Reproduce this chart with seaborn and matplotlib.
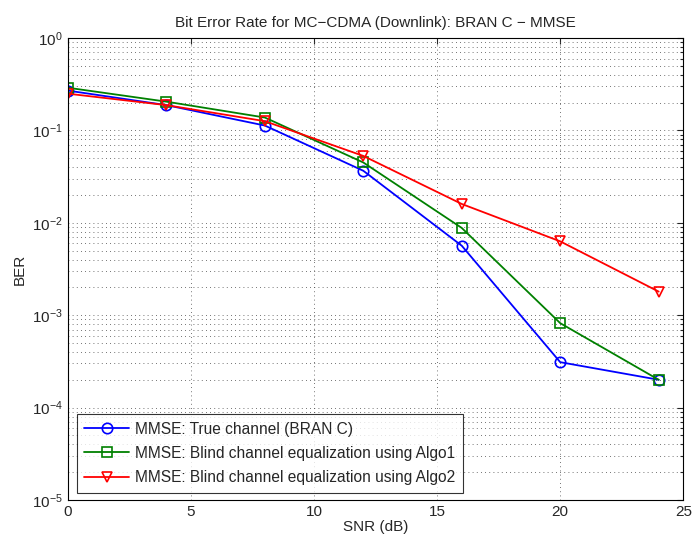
import matplotlib
matplotlib.use("Agg")
import matplotlib.pyplot as plt
import seaborn as sns
import pandas as pd
import numpy as np
from matplotlib.ticker import LogLocator, NullFormatter

snr = [0, 4, 8, 12, 16, 20, 24]
ber_true = [0.27, 0.188, 0.113, 0.0366, 0.00565, 0.00031, 0.0002]
ber_algo1 = [0.29, 0.205, 0.138, 0.045, 0.0088, 0.00082, 0.0002]
ber_algo2 = [0.25, 0.188, 0.126, 0.053, 0.016, 0.0063, 0.0018]
labels = ["MMSE: True channel (BRAN C)",
          "MMSE: Blind channel equalization using Algo1",
          "MMSE: Blind channel equalization using Algo2"]
colors = ["#0000ff", "#008000", "#ff0000"]
markers = ["o", "s", "v"]

sns.set_style("white")
plt.rcParams['font.family'] = ['Liberation Sans', 'DejaVu Sans']

fig = plt.figure(figsize=(6.93, 5.44), dpi=100)
ax = fig.add_axes([0.098, 0.081, 0.888, 0.849])

for vals, lab, c, m in zip([ber_true, ber_algo1, ber_algo2], labels, colors, markers):
    df = pd.DataFrame({"SNR": snr, "BER": vals})
    sns.lineplot(data=df, x="SNR", y="BER", ax=ax, color=c, marker=m,
                 markersize=7.5, markerfacecolor="none", markeredgecolor=c,
                 markeredgewidth=1.2, linewidth=1.3, label=lab)

ax.set_yscale("log")
ax.set_xlim(0, 25)
ax.set_ylim(1e-5, 1)
ax.set_xticks([0, 5, 10, 15, 20, 25])
ax.yaxis.set_major_locator(LogLocator(base=10, numticks=10))
ax.yaxis.set_minor_locator(LogLocator(base=10, subs=np.arange(2, 10), numticks=20))
ax.yaxis.set_minor_formatter(NullFormatter())

ax.grid(True, which="major", axis="both", linestyle=(0, (1, 4)), color="#444444", linewidth=0.6)
ax.grid(True, which="minor", axis="y", linestyle=(0, (1, 4)), color="#444444", linewidth=0.6)

ax.tick_params(which="both", direction="in", top=True, right=True, labelsize=11, length=4, width=0.8)
ax.tick_params(which="minor", length=2.5)
for s in ax.spines.values():
    s.set_color("black")
    s.set_linewidth(0.8)

ax.set_xlabel("SNR (dB)", fontsize=11, labelpad=1)
ax.set_ylabel("BER", fontsize=11, labelpad=4)
ax.set_title("Bit Error Rate for MC\u2212CDMA (Downlink): BRAN C \u2212 MMSE", fontsize=11, pad=8)

leg = ax.legend(loc="lower left", bbox_to_anchor=(0.014, 0.015), fontsize=11.2, frameon=True,
                fancybox=False, edgecolor="black", borderpad=0.5, labelspacing=0.6,
                handlelength=2.9, handletextpad=0.35, borderaxespad=0)
leg.get_frame().set_linewidth(0.8)

fig.savefig("out.png", dpi=100)
